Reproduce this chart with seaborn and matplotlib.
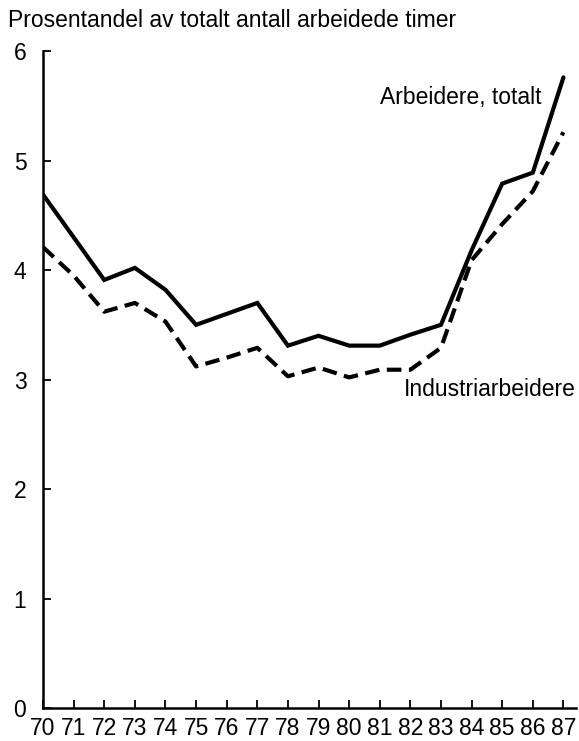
import matplotlib
matplotlib.use("Agg")
import matplotlib.pyplot as plt
import seaborn as sns
import pandas as pd

# Data
years = list(range(70, 88))
arbeidere_totalt = [4.69, 4.30, 3.91, 4.02, 3.82, 3.50, 3.60, 3.70, 3.31, 3.40,
                    3.31, 3.31, 3.41, 3.50, 4.18, 4.79, 4.89, 5.76]
industriarbeidere = [4.21, 3.95, 3.62, 3.70, 3.53, 3.12, 3.20, 3.29, 3.03, 3.11,
                     3.02, 3.09, 3.09, 3.29, 4.09, 4.42, 4.72, 5.26]
y_ticks = [0, 1, 2, 3, 4, 5, 6]

df = pd.DataFrame({"år": years, "totalt": arbeidere_totalt, "industri": industriarbeidere})

sns.set_theme(style="ticks")
plt.rcParams['font.family'] = ['Liberation Sans', 'DejaVu Sans']
plt.rcParams['text.color'] = 'black'

fig = plt.figure(figsize=(5.79, 7.41), dpi=100)
ax = fig.add_axes([0.0743, 0.0445, 0.921, 0.8865])

sns.lineplot(data=df, x="år", y="totalt", ax=ax, color="black", linewidth=3,
             solid_joinstyle="miter")
sns.lineplot(data=df, x="år", y="industri", ax=ax, color="black", linewidth=3,
             linestyle=(0, (3.5, 1.8)))

ax.set_xlim(70, 87.42)
ax.set_ylim(0, 6)
ax.set_xticks(years)
ax.set_xticklabels([str(y) for y in years])
ax.set_yticks(y_ticks)
ax.set_xlabel("")
ax.set_ylabel("")

for s in ["top", "right"]:
    ax.spines[s].set_visible(False)
for s in ["left", "bottom"]:
    ax.spines[s].set_linewidth(1.8)
    ax.spines[s].set_color("black")

ax.tick_params(axis="both", direction="in", length=6, width=1.3, colors="black",
               labelsize=16.5)
ax.tick_params(axis="x", pad=6.5)
ax.tick_params(axis="y", pad=12)

ax.text(86.3, 5.58, "Arbeidere, totalt", ha="right", va="center", fontsize=16.5,
        color="black")
ax.text(81.8, 2.91, "Industriarbeidere", ha="left", va="center", fontsize=16.5,
        color="black")

fig.text(0.014, 0.973, "Prosentandel av totalt antall arbeidede timer",
         ha="left", va="center", fontsize=16.5, color="black")

plt.savefig("out.png", dpi=100)
